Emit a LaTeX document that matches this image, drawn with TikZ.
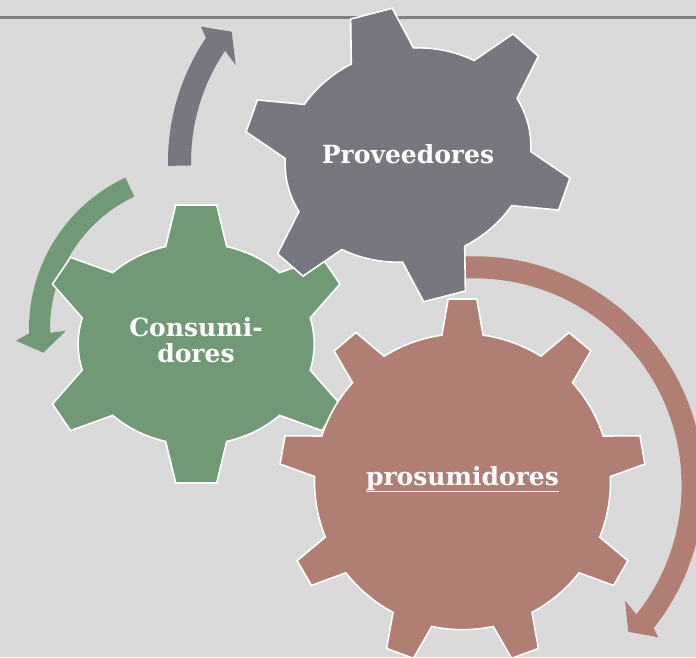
\documentclass[tikz,border=0pt]{standalone}
\usepackage{fontspec}
\newfontfamily\gearfont{DejaVu Serif}
\definecolor{bgcol}{HTML}{D9D9D9}
\definecolor{rulecol}{HTML}{7F7F7F}
\definecolor{graycol}{HTML}{77777F}
\definecolor{greencol}{HTML}{719976}
\definecolor{browncol}{HTML}{B07E72}
\newcommand\gearsix[4]{%
\begin{scope}[shift={#1}, yscale=-1, rotate=#2, scale=#3]
\path[gearfill=#4] (15:124 and 106) -- (151,63) -- (132,91) -- (45:124 and 106)
  arc[start angle=45, end angle=75, x radius=124, y radius=106] -- (21.5,146) -- (-21.5,146) -- (105:124 and 106)
  arc[start angle=105, end angle=135, x radius=124, y radius=106] -- (-132,91) -- (-151,63) -- (165:124 and 106)
  arc[start angle=165, end angle=195, x radius=124, y radius=106] -- (-151,-63) -- (-132,-91) -- (225:124 and 106)
  arc[start angle=225, end angle=255, x radius=124, y radius=106] -- (-21.5,-146) -- (21.5,-146) -- (285:124 and 106)
  arc[start angle=285, end angle=315, x radius=124, y radius=106] -- (132,-91) -- (151,-63) -- (345:124 and 106)
  arc[start angle=345, end angle=375, x radius=124, y radius=106] -- cycle;
\end{scope}}
\begin{document}
\begin{tikzpicture}[x=1pt,y=-1pt,
  gearfill/.style={fill=#1, draw=white, line width=1.6pt, line join=miter},
  arrowfill/.style={fill=#1, draw=none},
  lbl/.style={text=white, font=\gearfont\bfseries\fontsize{25}{26}\selectfont, align=center, inner sep=0pt}]
\useasboundingbox (0,0) rectangle (696,657);
\clip (0,0) rectangle (696,657);
\fill[bgcol] (0,0) rectangle (696,657);
\coordinate (ruleL) at (0,17.5);
\coordinate (ruleR) at (696,17.5);
\draw[rulecol, line width=2.5pt] (ruleL) -- (ruleR);
% gray circular arrow
\begin{scope}[shift={(390,162)}, yscale=-1]
\fill[arrowfill=graycol] (181:222) arc[start angle=181, end angle=146, radius=222]
  -- (-189,135.3) -- (-158.3,130.3) -- (-154.3,97) -- (146:199)
  arc[start angle=146, end angle=181, radius=199] -- cycle;
\end{scope}
% green circular arrow
\begin{scope}[shift={(196,329)}, yscale=-1]
\fill[arrowfill=greencol] (115:167) arc[start angle=115, end angle=181.5, radius=167]
  -- (-180,-11.7) -- (-152.7,-23.7) -- (-130,-1.7) -- (181.5:146)
  arc[start angle=181.5, end angle=115, radius=146] -- cycle;
\end{scope}
% brown circular arrow
\begin{scope}[shift={(474.6,485.3)}, yscale=-1]
\fill[arrowfill=browncol] (95:229) arc[start angle=95, end angle=-38.6, radius=229]
  -- (183.7,-152) -- (153.7,-146.4) -- (150.4,-115.4) -- (-38.6:207)
  arc[start angle=-38.6, end angle=95, radius=207] -- cycle;
\end{scope}
% gears
\gearsix{(196.2,344)}{0}{0.952}{greencol}
\begin{scope}[shift={(462.5,481.7)}, yscale=-1]
\path[gearfill=browncol] (2:148) \foreach \a in {10,50,...,330}{ -- ({\a-8}:148) -- ({\a-4.48}:183.3) -- ({\a+4.48}:183.3) -- ({\a+8}:148) arc[start angle={\a+8}, end angle={\a+32}, radius=148]} -- cycle;
\end{scope}
\gearsix{(408,155)}{-14.5}{1}{graycol}
% labels
\node[lbl, anchor=base] (prov) at (408,163) {Proveedores};
\node[lbl, anchor=center] (cons) at (196,340) {Consumi-\\dores};
\node[lbl, anchor=base] (pros) at (462.5,485) {\underline{prosumidores}};
\end{tikzpicture}
\end{document}
